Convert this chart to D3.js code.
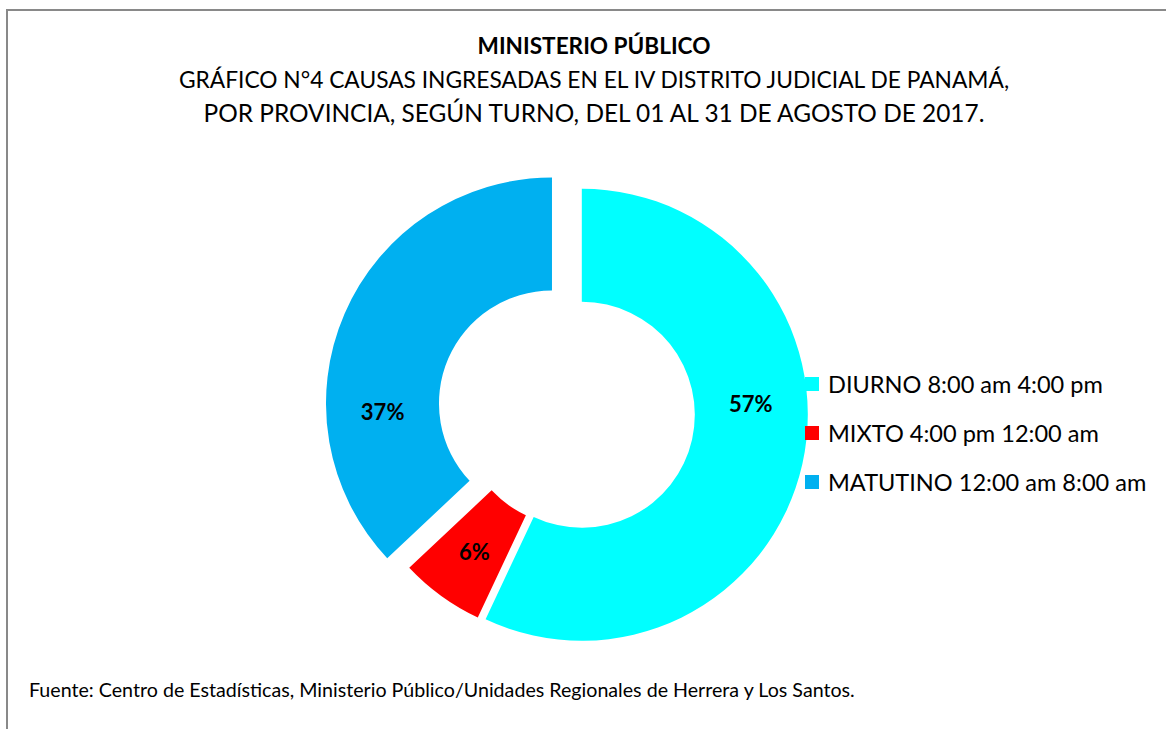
<!DOCTYPE html>
<html>
<head>
<meta charset="utf-8">
<script src="https://cdn.jsdelivr.net/npm/d3@7"></script>
<style>
  html, body { margin: 0; padding: 0; background: #fff; }
  svg { display: block; font-family: Lato, "Open Sans", sans-serif; }
</style>
</head>
<body>
<svg id="chart" width="1166" height="729"></svg>
<script>
// ---- data ----
const categories = ["DIURNO 8:00 am 4:00 pm", "MIXTO 4:00 pm 12:00 am", "MATUTINO 12:00 am 8:00 am"];
const shares = [57, 6, 37];
const valueLabels = ["57%", "6%", "37%"];
const colors = ["#00FFFF", "#FF0000", "#00B0F0"];
const titleLines = [
  "MINISTERIO PÚBLICO",
  "GRÁFICO N°4 CAUSAS INGRESADAS EN EL IV DISTRITO JUDICIAL DE PANAMÁ,",
  "POR PROVINCIA, SEGÚN TURNO, DEL 01 AL 31 DE AGOSTO DE 2017."
];
const sourceNote = "Fuente: Centro de Estadísticas, Ministerio Público/Unidades Regionales de Herrera y Los Santos.";

// ---- layout ----
const cx = 574, cy = 413, outerR = 226, innerR = 113;
const explodeBy = [8, 0, 24];             // slice explosion (px) as in the reference
const labelAngleDeg = [85.7, null, 267.5]; // null -> slice bisector
const labelRadius = 169.5;

const svg = d3.select("#chart");

// frame
svg.append("rect").attr("x", 7).attr("y", 10).attr("width", 1300).attr("height", 900)
  .attr("fill", "none").attr("stroke", "#898989").attr("stroke-width", 2);

// fit text helper: scale font-size so the text spans target width
function fit(sel, base, target) {
  sel.style("font-size", base + "px");
  const w = sel.node().getComputedTextLength();
  sel.style("font-size", (base * target / w).toFixed(2) + "px");
  return sel;
}

// titles
const tcx = 594;
fit(svg.append("text").attr("x", tcx).attr("y", 54).attr("text-anchor", "middle")
  .attr("font-weight", "bold").attr("fill", "#000").text(titleLines[0]), 20, 233);
fit(svg.append("text").attr("x", tcx).attr("y", 88).attr("text-anchor", "middle")
  .attr("fill", "#000").text(titleLines[1]), 20, 830);
fit(svg.append("text").attr("x", tcx).attr("y", 122).attr("text-anchor", "middle")
  .attr("fill", "#000").text(titleLines[2]), 20, 781);

// donut
const pie = d3.pie().sort(null).value(d => d);
const arcs = pie(shares);
const arc = d3.arc().innerRadius(innerR).outerRadius(outerR);
const g = svg.append("g").attr("transform", `translate(${cx},${cy})`);

function offset(d, i) {
  const a = (d.startAngle + d.endAngle) / 2;
  return [explodeBy[i] * Math.sin(a), -explodeBy[i] * Math.cos(a)];
}

g.selectAll("path.slice").data(arcs).enter().append("path")
  .attr("class", "slice")
  .attr("d", arc)
  .attr("fill", (d, i) => colors[i])
  .attr("transform", (d, i) => `translate(${offset(d, i)})`);

function labelPos(d, i) {
  const o = offset(d, i);
  const la = labelAngleDeg[i] == null ? (d.startAngle + d.endAngle) / 2 : labelAngleDeg[i] * Math.PI / 180;
  return [o[0] + labelRadius * Math.sin(la), o[1] - labelRadius * Math.cos(la)];
}

g.selectAll("text.lbl").data(arcs).enter().append("text")
  .attr("class", "lbl")
  .attr("text-anchor", "middle")
  .attr("dominant-baseline", "central")
  .attr("font-weight", "bold")
  .style("font-size", "22px")
  .attr("fill", "#000")
  .attr("x", (d, i) => labelPos(d, i)[0])
  .attr("y", (d, i) => labelPos(d, i)[1] + 1)
  .text((d, i) => valueLabels[i]);

// legend
const legY = d3.scalePoint().domain(categories).range([384, 482]);
const leg = svg.append("g");
categories.forEach((c, i) => {
  leg.append("rect").attr("x", 805).attr("y", legY(c) - 7).attr("width", 14).attr("height", 14)
    .attr("fill", colors[i]);
  const t = leg.append("text").attr("x", 828).attr("y", legY(c)).attr("dominant-baseline", "central")
    .attr("fill", "#000").text(c);
  if (i === 0) fit(t, 20, 275);
});
const legSize = leg.select("text").style("font-size");
leg.selectAll("text").style("font-size", legSize);

// source
fit(svg.append("text").attr("x", 29).attr("y", 697).attr("fill", "#000").text(sourceNote), 15, 826);
</script>
</body>
</html>
